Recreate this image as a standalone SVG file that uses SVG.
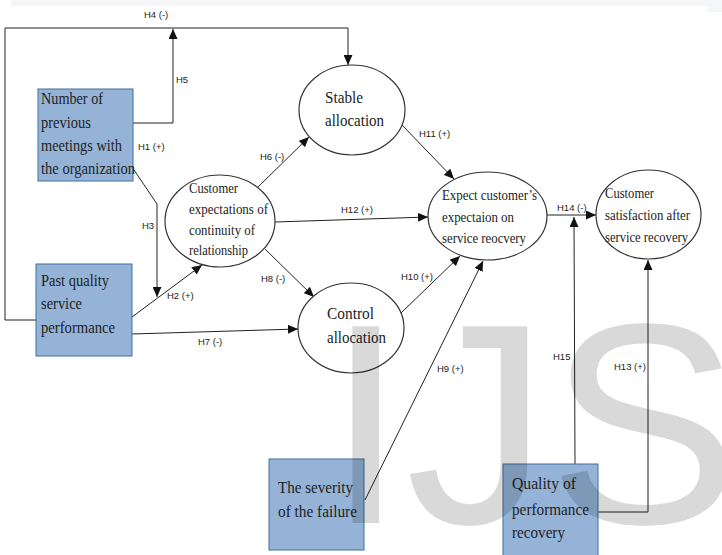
<svg xmlns="http://www.w3.org/2000/svg" width="722" height="555" viewBox="0 0 722 555">
<style>
.box{fill:#95b3d7;stroke:#41719c;stroke-width:1}
.ell{fill:#fff;stroke:#333;stroke-width:1.2}
.nt{font-family:"Liberation Serif","Times New Roman",serif;fill:#222;font-size:16.5px}
.et{font-family:"Liberation Serif","Times New Roman",serif;fill:#222;font-size:14.5px}
.bt{font-family:"Liberation Serif","Times New Roman",serif;fill:#222;font-size:17px}
.lbl{font-family:"Liberation Sans",Arial,sans-serif;fill:#222;font-size:9.5px}
.c{fill:none;stroke:#222;stroke-width:1}
.a{marker-end:url(#ah)}
</style>
<defs>
<marker id="ah" markerUnits="userSpaceOnUse" markerWidth="10" markerHeight="9" refX="10" refY="4.5" orient="auto">
<path d="M0,0 L10,4.5 L0,9 z" fill="#111"/>
</marker>
</defs>
<rect x="0" y="0" width="722" height="555" fill="#fff"/>
<rect x="11" y="0" width="696" height="6" fill="#f5f6f8"/>
<rect x="707" y="0" width="15" height="12" fill="#f5f6f8"/>

<g id="connectors">
<path class="c a" d="M36,320 H5 V28 H348 V65"/>
<path class="c a" d="M133,123 H173 V29"/>
<path class="c a" d="M134,170 L157,204 V297"/>
<path class="c a" d="M132,317 L202,265"/>
<path class="c a" d="M132,334 L298,329"/>
<path class="c a" d="M258,187 L309,137"/>
<path class="c a" d="M265,249 L314,297"/>
<path class="c a" d="M275,222 L428,217"/>
<path class="c a" d="M402,125 L454,179"/>
<path class="c a" d="M401,313 L460,256"/>
<path class="c a" d="M365,500 L483,261"/>
<path class="c a" d="M547,215 H596"/>
<path class="c a" d="M575,464 L574,217"/>
<path class="c a" d="M598,512 H648 V260"/>
<text class="lbl" x="144" y="17.5">H4 (-)</text>
<text class="lbl" x="176" y="82.5">H5</text>
<text class="lbl" x="138" y="149.5">H1 (+)</text>
<text class="lbl" x="142" y="228.5">H3</text>
<text class="lbl" x="167" y="298.5">H2 (+)</text>
<text class="lbl" x="198" y="344.5">H7 (-)</text>
<text class="lbl" x="260" y="159.5">H6 (-)</text>
<text class="lbl" x="261" y="281.5">H8 (-)</text>
<text class="lbl" x="341" y="212.5">H12 (+)</text>
<text class="lbl" x="419" y="136.5">H11 (+)</text>
<text class="lbl" x="401" y="279.5">H10 (+)</text>
<text class="lbl" x="437" y="371.5">H9 (+)</text>
<text class="lbl" x="557" y="210.5">H14 (-)</text>
<text class="lbl" x="553" y="359.5">H15</text>
<text class="lbl" x="614" y="369.5">H13 (+)</text>
</g>

<g id="n-number">
<rect class="box" x="38" y="89" width="95" height="92"/>
<text class="nt" x="41" y="104" textLength="62" lengthAdjust="spacingAndGlyphs">Number of</text>
<text class="nt" x="41" y="128" textLength="50" lengthAdjust="spacingAndGlyphs">previous</text>
<text class="nt" x="41" y="151" textLength="81" lengthAdjust="spacingAndGlyphs">meetings with</text>
<text class="nt" x="41" y="174" textLength="94" lengthAdjust="spacingAndGlyphs">the organization</text>
</g>

<g id="n-past">
<rect class="box" x="36" y="264" width="96" height="92"/>
<text class="nt" x="41" y="286" textLength="68" lengthAdjust="spacingAndGlyphs">Past quality</text>
<text class="nt" x="41" y="309" textLength="41" lengthAdjust="spacingAndGlyphs">service</text>
<text class="nt" x="41" y="333" textLength="74" lengthAdjust="spacingAndGlyphs">performance</text>
</g>

<g id="n-custexp">
<ellipse class="ell" cx="220" cy="221" rx="55" ry="46"/>
<text class="et" x="189" y="193" textLength="49" lengthAdjust="spacingAndGlyphs">Customer</text>
<text class="et" x="189" y="214" textLength="79" lengthAdjust="spacingAndGlyphs">expectations of</text>
<text class="et" x="189" y="235" textLength="66" lengthAdjust="spacingAndGlyphs">continuity of</text>
<text class="et" x="189" y="255" textLength="59" lengthAdjust="spacingAndGlyphs">relationship</text>
</g>

<g id="n-stable">
<ellipse class="ell" cx="352" cy="110" rx="53" ry="45"/>
<text class="bt" x="325" y="103" textLength="38" lengthAdjust="spacingAndGlyphs">Stable</text>
<text class="bt" x="325" y="126" textLength="59" lengthAdjust="spacingAndGlyphs">allocation</text>
</g>

<g id="n-control">
<ellipse class="ell" cx="351" cy="328" rx="53" ry="45"/>
<text class="bt" x="327" y="319" textLength="47" lengthAdjust="spacingAndGlyphs">Control</text>
<text class="bt" x="327" y="343" textLength="59" lengthAdjust="spacingAndGlyphs">allocation</text>
</g>

<g id="n-expect">
<ellipse class="ell" cx="487.5" cy="216" rx="59.5" ry="44"/>
<text class="et" x="442" y="200" textLength="95" lengthAdjust="spacingAndGlyphs">Expect customer’s</text>
<text class="et" x="442" y="222" textLength="72" lengthAdjust="spacingAndGlyphs">expectaion on</text>
<text class="et" x="442" y="243" textLength="84" lengthAdjust="spacingAndGlyphs">service reocvery</text>
</g>

<g id="n-satisfaction">
<ellipse class="ell" cx="648.5" cy="214.5" rx="52.5" ry="44.5"/>
<text class="et" x="605" y="198" textLength="49" lengthAdjust="spacingAndGlyphs">Customer</text>
<text class="et" x="605" y="220" textLength="85" lengthAdjust="spacingAndGlyphs">satisfaction  after</text>
<text class="et" x="605" y="242" textLength="83" lengthAdjust="spacingAndGlyphs">service recovery</text>
</g>

<g id="n-severity">
<rect class="box" x="269" y="459" width="95" height="91"/>
<text class="nt" x="278" y="493" textLength="75" lengthAdjust="spacingAndGlyphs">The severity</text>
<text class="nt" x="278" y="517" textLength="79" lengthAdjust="spacingAndGlyphs">of the failure</text>
</g>

<g id="n-quality">
<rect class="box" x="503" y="464" width="95" height="92"/>
<text class="nt" x="512" y="489" textLength="64" lengthAdjust="spacingAndGlyphs">Quality of</text>
<text class="nt" x="512" y="515" textLength="77" lengthAdjust="spacingAndGlyphs">performance</text>
<text class="nt" x="512" y="538" textLength="53" lengthAdjust="spacingAndGlyphs">recovery</text>
</g>

<text x="326" y="523" font-family="Liberation Sans, Arial, sans-serif" font-size="286" fill="#000" fill-opacity="0.15">IJS</text>
</svg>
